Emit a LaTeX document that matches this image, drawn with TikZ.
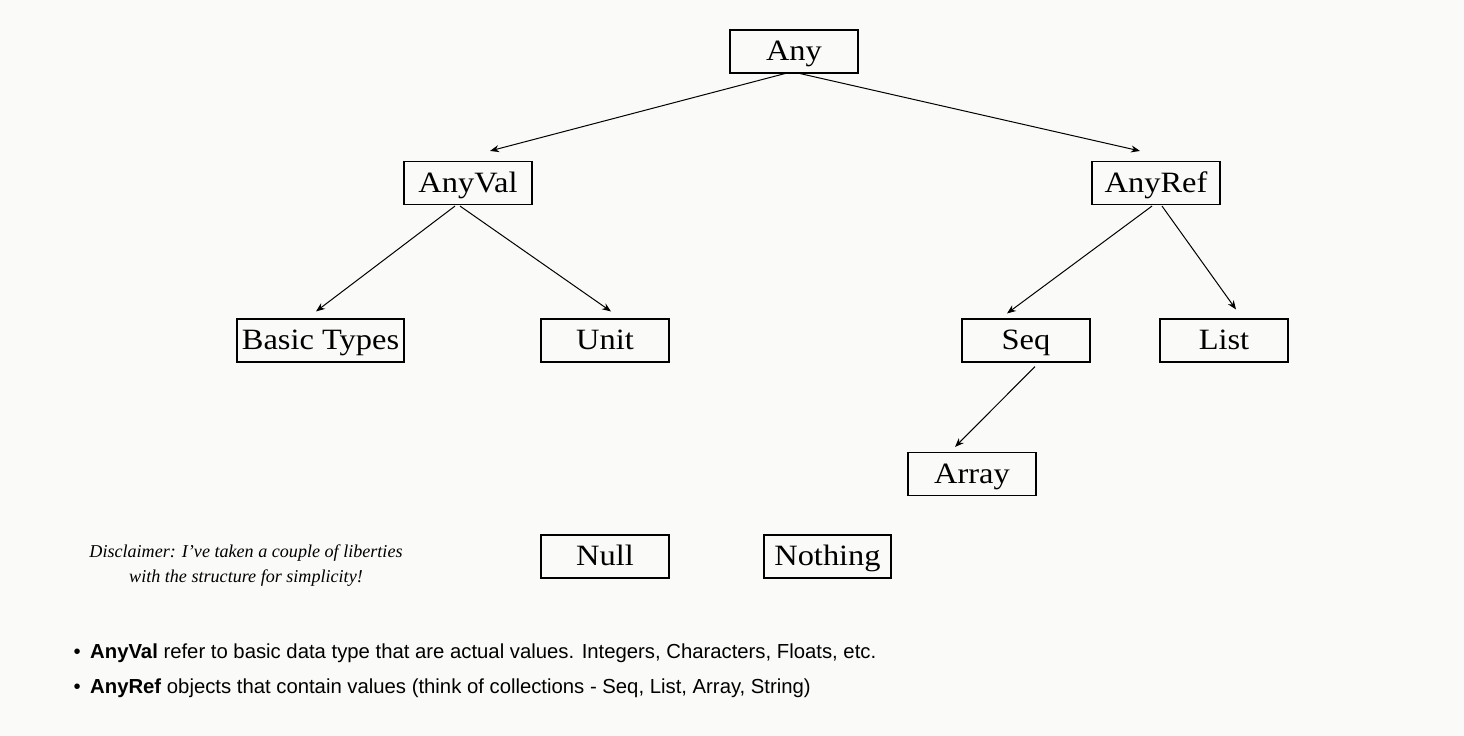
\documentclass[tikz,border=0pt]{standalone}
\usepackage{fontspec}
\newfontfamily\libserif{Liberation Serif}
\newfontfamily\boxfont[FakeStretch=1.1]{Liberation Serif}
\setsansfont{Liberation Sans}
\usetikzlibrary{arrows.meta,calc}
\definecolor{bg}{RGB}{250,250,248}
\begin{document}
\begin{tikzpicture}[x=1pt,y=-1pt,
 box/.style={draw,line width=1.1pt,minimum width=128pt,minimum height=43pt,inner xsep=0pt,inner ysep=0pt,text height=30.5pt,text depth=12.5pt,font=\boxfont\fontsize{29.5}{32}\selectfont},
 arr/.style={-{Stealth[length=9pt,width=7pt]},line width=1pt},
 bul/.style={anchor=base west,inner sep=0pt,font=\sffamily\fontsize{20.3}{22}\selectfont}]
\fill[bg] (0,0) rectangle (1464,736);
\useasboundingbox (0,0) rectangle (1464,736);
\node[box] (any) at (794,51.5) {Any};
\node[box] (anyval) at (468,183) {AnyVal};
\node[box] (anyref) at (1156,183) {AnyRef};
\node[box,minimum width=167pt] (basic) at (320.5,340.5) {Basic Types};
\node[box] (unit) at (605,340.5) {Unit};
\node[box] (seq) at (1026,340.5) {Seq};
\node[box] (list) at (1224,340.5) {List};
\node[box] (array) at (972,474) {Array};
\node[box] (null) at (605,556.5) {Null};
\node[box,minimum width=127pt] (nothing) at (827.5,556.5) {Nothing};
\draw[arr] ($(any.south)+(-9,0)$) -- ($(anyval.north)+(22,-10)$);
\draw[arr] ($(any.south)+(6,0)$) -- ($(anyref.north)+(-16,-10)$);
\draw[arr] ($(anyval.south)+(-13,1)$) -- ($(basic.north)+(-4.5,-7)$);
\draw[arr] ($(anyval.south)+(-8,1)$) -- ($(unit.north)+(6,-7)$);
\draw[arr] ($(anyref.south)+(-4,1)$) -- ($(seq.north)+(-19,-5)$);
\draw[arr] ($(anyref.south)+(6,1)$) -- ($(list.north)+(12,-9)$);
\draw[arr] ($(seq.south)+(9,4)$) -- ($(array.north)+(-17,-5)$);
\node[align=center,font=\libserif\itshape\fontsize{18.1}{25}\selectfont,inner sep=0pt] (disc) at (246,566) {Disclaimer: I’ve taken a couple of liberties\\with the structure for simplicity!};
\node[bul] (b1) at (90,658.5) {\textbf{AnyVal} refer to basic data type that are actual values. Integers, Characters, Floats, etc.};
\node[bul] (b2) at (90,693.5) {\textbf{AnyRef} objects that contain values (think of collections - Seq, List, Array, String)};
\node[bul,anchor=base east] (d1) at (81,658.5) {•};
\node[bul,anchor=base east] (d2) at (81,693.5) {•};
\end{tikzpicture}
\end{document}
